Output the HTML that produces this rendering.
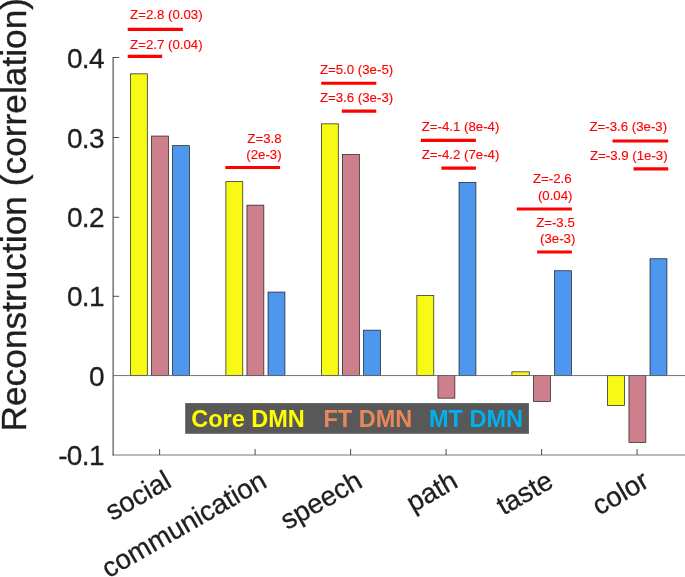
<!DOCTYPE html>
<html><head><meta charset="utf-8"><title>chart</title>
<style>
html,body{margin:0;padding:0;background:#fff;}
body{width:685px;height:577px;overflow:hidden;}
svg{display:block;will-change:transform;font-family:"Liberation Sans",sans-serif;}
</style></head><body>
<svg width="685" height="577" viewBox="0 0 685 577">
<rect x="0" y="0" width="685" height="577" fill="#ffffff"/>

<rect x="130.38" y="73.85" width="16.90" height="301.70" fill="#f8f914" stroke="#1a1a1a" stroke-width="0.7"/>
<rect x="151.45" y="136.05" width="16.90" height="239.50" fill="#ce7f8c" stroke="#1a1a1a" stroke-width="0.7"/>
<rect x="172.52" y="145.65" width="16.90" height="229.90" fill="#4d97ee" stroke="#1a1a1a" stroke-width="0.7"/>
<rect x="225.88" y="181.65" width="16.90" height="193.90" fill="#f8f914" stroke="#1a1a1a" stroke-width="0.7"/>
<rect x="246.95" y="205.15" width="16.90" height="170.40" fill="#ce7f8c" stroke="#1a1a1a" stroke-width="0.7"/>
<rect x="268.02" y="292.05" width="16.90" height="83.50" fill="#4d97ee" stroke="#1a1a1a" stroke-width="0.7"/>
<rect x="321.38" y="123.85" width="16.90" height="251.70" fill="#f8f914" stroke="#1a1a1a" stroke-width="0.7"/>
<rect x="342.45" y="154.55" width="16.90" height="221.00" fill="#ce7f8c" stroke="#1a1a1a" stroke-width="0.7"/>
<rect x="363.52" y="330.15" width="16.90" height="45.40" fill="#4d97ee" stroke="#1a1a1a" stroke-width="0.7"/>
<rect x="416.88" y="295.65" width="16.90" height="79.90" fill="#f8f914" stroke="#1a1a1a" stroke-width="0.7"/>
<rect x="437.95" y="375.55" width="16.90" height="22.60" fill="#ce7f8c" stroke="#1a1a1a" stroke-width="0.7"/>
<rect x="459.02" y="182.35" width="16.90" height="193.20" fill="#4d97ee" stroke="#1a1a1a" stroke-width="0.7"/>
<rect x="511.88" y="371.85" width="17.40" height="3.70" fill="#f8f914" stroke="#1a1a1a" stroke-width="0.7"/>
<rect x="533.45" y="375.55" width="16.90" height="25.90" fill="#ce7f8c" stroke="#1a1a1a" stroke-width="0.7"/>
<rect x="554.52" y="270.75" width="16.90" height="104.80" fill="#4d97ee" stroke="#1a1a1a" stroke-width="0.7"/>
<rect x="607.58" y="375.55" width="16.90" height="29.90" fill="#f8f914" stroke="#1a1a1a" stroke-width="0.7"/>
<rect x="628.95" y="375.55" width="16.90" height="66.80" fill="#ce7f8c" stroke="#1a1a1a" stroke-width="0.7"/>
<rect x="650.02" y="258.75" width="16.90" height="116.80" fill="#4d97ee" stroke="#1a1a1a" stroke-width="0.7"/>
<g stroke="#3c3c3c" fill="none">
<line x1="113.1" y1="57.05" x2="113.1" y2="455.45" stroke-width="1.05"/>
<line x1="112.6" y1="455.0" x2="686" y2="455.0" stroke-width="0.9" stroke="#686868"/>
<line x1="113.1" y1="375.55" x2="686" y2="375.55" stroke-width="0.9" stroke="#686868"/>
<g stroke-width="0.9">
<line x1="113.1" y1="57.50" x2="119.2" y2="57.50"/>
<line x1="113.1" y1="137.50" x2="119.2" y2="137.50"/>
<line x1="113.1" y1="217.30" x2="119.2" y2="217.30"/>
<line x1="113.1" y1="296.30" x2="119.2" y2="296.30"/>
<line x1="159.60" y1="455.0" x2="159.60" y2="449.0"/>
<line x1="255.10" y1="455.0" x2="255.10" y2="449.0"/>
<line x1="350.60" y1="455.0" x2="350.60" y2="449.0"/>
<line x1="446.10" y1="455.0" x2="446.10" y2="449.0"/>
<line x1="541.60" y1="455.0" x2="541.60" y2="449.0"/>
<line x1="637.10" y1="455.0" x2="637.10" y2="449.0"/>
</g></g>
<g font-size="28" fill="#1f1f1f" stroke="#1f1f1f" stroke-width="0.3" text-anchor="end" letter-spacing="-0.6">
<text transform="translate(104.0,465.35)">-0.1</text>
<text transform="translate(104.0,385.90)">0</text>
<text transform="translate(104.0,306.45)">0.1</text>
<text transform="translate(104.0,227.00)">0.2</text>
<text transform="translate(104.0,147.55)">0.3</text>
<text transform="translate(104.0,68.10)">0.4</text>
</g>
<text transform="translate(25.5,431.5) rotate(-90)" font-size="35.3" fill="#1f1f1f" stroke="#1f1f1f" stroke-width="0.35">Reconstruction (correlation)</text>
<g font-size="27.5" fill="#1f1f1f" stroke="#1f1f1f" stroke-width="0.3" text-anchor="end">
<text transform="translate(173.10,486.00) rotate(-30)">social</text>
<text transform="translate(268.60,486.00) rotate(-30)">communication</text>
<text transform="translate(364.10,486.00) rotate(-30)">speech</text>
<text transform="translate(459.60,486.00) rotate(-30)">path</text>
<text transform="translate(555.10,486.00) rotate(-30)">taste</text>
<text transform="translate(650.60,486.00) rotate(-30)">color</text>
</g>
<rect x="185.2" y="403.1" width="343.7" height="30.7" fill="#585858"/>
<g font-size="23.5" font-weight="bold">
<text x="191.2" y="426.8" fill="#ffff00">Core DMN</text>
<text x="323.5" y="426.8" fill="#e8875a">FT DMN</text>
<text x="429.0" y="426.8" fill="#00b0f0">MT DMN</text>
</g>
<g stroke="#ff0000" stroke-width="3.1" fill="none">
<line x1="127.7" y1="29.4" x2="182.9" y2="29.4"/>
<line x1="127.7" y1="56.4" x2="162.2" y2="56.4"/>
<line x1="225.3" y1="167.5" x2="280.1" y2="167.5"/>
<line x1="321.2" y1="83.3" x2="376.3" y2="83.3"/>
<line x1="341.8" y1="111.1" x2="376.3" y2="111.1"/>
<line x1="420.8" y1="140.4" x2="475.9" y2="140.4"/>
<line x1="441.4" y1="168.1" x2="475.9" y2="168.1"/>
<line x1="516.8" y1="209.0" x2="571.9" y2="209.0"/>
<line x1="537.1" y1="252.0" x2="571.9" y2="252.0"/>
<line x1="612.5" y1="141.0" x2="668.2" y2="141.0"/>
<line x1="633.5" y1="168.9" x2="668.2" y2="168.9"/>
</g>
<g font-size="13.25" fill="#ff0000" stroke="#ff0000" stroke-width="0.12">
<text x="130.1" y="19.3" text-anchor="start">Z=2.8 (0.03)</text>
<text x="130.1" y="49.0" text-anchor="start">Z=2.7 (0.04)</text>
<text x="281.6" y="143.0" text-anchor="end">Z=3.8</text>
<text x="281.6" y="158.9" text-anchor="end">(2e-3)</text>
<text x="319.9" y="73.9" text-anchor="start">Z=5.0 (3e-5)</text>
<text x="319.9" y="101.9" text-anchor="start">Z=3.6 (3e-3)</text>
<text x="421.7" y="130.9" text-anchor="start">Z=-4.1 (8e-4)</text>
<text x="421.7" y="158.8" text-anchor="start">Z=-4.2 (7e-4)</text>
<text x="571.6" y="183.4" text-anchor="end">Z=-2.6</text>
<text x="572.5" y="199.7" text-anchor="end">(0.04)</text>
<text x="574.8" y="226.7" text-anchor="end">Z=-3.5</text>
<text x="575.4" y="242.9" text-anchor="end">(3e-3)</text>
<text x="589.4" y="131.2" text-anchor="start">Z=-3.6 (3e-3)</text>
<text x="589.9" y="159.5" text-anchor="start">Z=-3.9 (1e-3)</text>
</g>
</svg></body></html>
